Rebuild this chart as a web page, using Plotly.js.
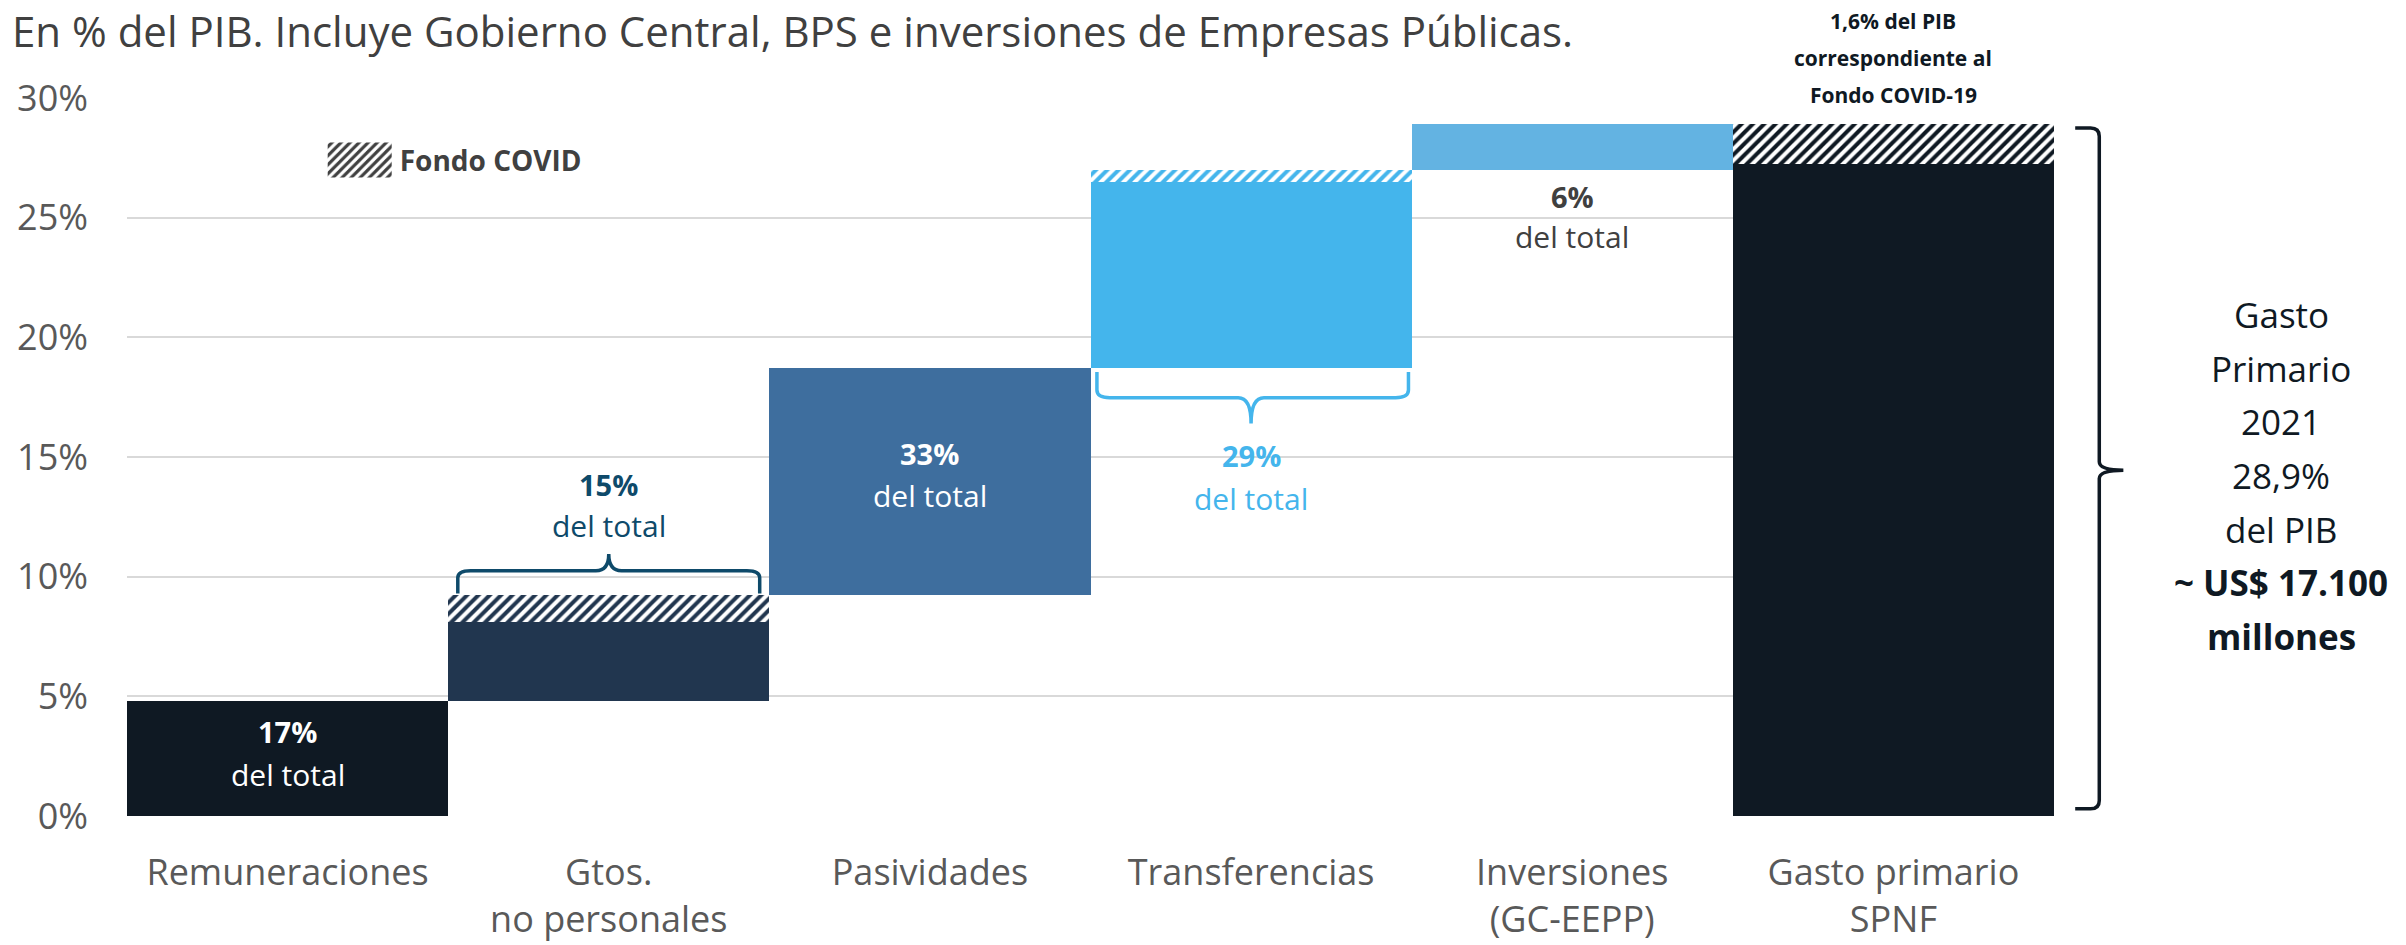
<!DOCTYPE html>
<html>
<head>
<meta charset="utf-8">
<script src="https://cdn.plot.ly/plotly-3.0.1.min.js"></script>
<style>
  html, body { margin: 0; padding: 0; background: #ffffff; }
  #chart { width: 2406px; height: 945px; }
</style>
</head>
<body>
<div id="chart"></div>
<script>
// ---- Data (% del PIB) ----
const categories = ['Remuneraciones', 'Gtos.<br>no personales', 'Pasividades', 'Transferencias', 'Inversiones<br>(GC-EEPP)', 'Gasto primario<br>SPNF'];
const solidValues = [4.8, 3.3, 9.45, 7.8, 1.9, 27.25];   // sin Fondo COVID
const covidValues = [0, 1.15, 0, 0.5, 0, 1.65];          // Fondo COVID
const isTotal = [false, false, false, false, false, true];
const shareLabels = ['17%', '15%', '33%', '29%', '6%'];
const barColors = ['#0f1923', '#21364f', '#3e6e9e', '#44b5ec', '#63b3e2', '#0f1923'];

// ---- Waterfall bases ----
const xIdx = categories.map((_, i) => i);
const starts = [];
let running = 0;
for (let i = 0; i < categories.length; i++) {
  if (isTotal[i]) { starts.push(0); }
  else { starts.push(running); running += solidValues[i] + covidValues[i]; }
}
const covidStarts = starts.map((s, i) => s + solidValues[i]);

const FONT = 'Open Sans, Noto Sans, sans-serif';

const traces = [
  {
    type: 'bar', x: xIdx, y: solidValues, base: starts, width: 1,
    marker: { color: barColors, line: { width: 0 } },
    showlegend: false, hoverinfo: 'skip'
  },
  {
    type: 'bar', x: xIdx, y: covidValues, base: covidStarts, width: 1,
    marker: { color: '#ffffff', line: { width: 0 },
      pattern: { shape: '/', fgcolor: barColors, bgcolor: '#ffffff', size: 8, solidity: 0.5, fillmode: 'replace' } },
    showlegend: false, hoverinfo: 'skip'
  },
  {
    type: 'bar', x: [null], y: [null], name: 'Fondo COVID',
    marker: { color: '#ffffff', line: { width: 0 },
      pattern: { shape: '/', fgcolor: '#404040', bgcolor: '#ffffff', size: 8, solidity: 0.5, fillmode: 'replace' } },
    showlegend: true, hoverinfo: 'skip'
  }
];

// ---- Annotations ----
const annotations = [];
const shareStyle = [
  { i: 0, yb: 3.52, yd: 1.72, color: '#ffffff' },
  { i: 1, yb: 13.85, yd: 12.13, color: '#0e4a6a' },
  { i: 2, yb: 15.15, yd: 13.4, color: '#ffffff' },
  { i: 3, yb: 15.07, yd: 13.28, color: '#44b5ec' },
  { i: 4, yb: 25.9, yd: 24.2, color: '#404040' }
];
shareStyle.forEach(s => {
  annotations.push({ xref: 'x', yref: 'y', x: s.i, y: s.yb, text: '<b>' + shareLabels[s.i] + '</b>', showarrow: false,
    xanchor: 'center', font: { family: FONT, size: 29, color: s.color } });
  annotations.push({ xref: 'x', yref: 'y', x: s.i, y: s.yd, text: 'del total', showarrow: false,
    xanchor: 'center', font: { family: FONT, size: 30, color: s.color } });
});

// Nota sobre Fondo COVID (arriba de la última barra)
const topNote = ['1,6% del PIB', 'correspondiente al', 'Fondo COVID-19'];
topNote.forEach((t, k) => {
  annotations.push({ xref: 'x', yref: 'paper', x: 5, y: 1.1066, yshift: -k * 36.6, text: '<b>' + t + '</b>',
    showarrow: false, xanchor: 'center', yanchor: 'middle', font: { family: FONT, size: 21, color: '#0f1923' } });
});

// Texto derecho
const rightText = ['Gasto', 'Primario', '2021', '28,9%', 'del PIB', '<b>~ US$ 17.100</b>', '<b>millones</b>'];
rightText.forEach((t, k) => {
  annotations.push({ xref: 'paper', yref: 'paper', x: 1.118, y: 0.6985, yshift: -k * 53.7, text: t,
    showarrow: false, xanchor: 'center', yanchor: 'middle', font: { family: FONT, size: 35, color: '#0f1923' } });
});

// ---- Brackets ----
const shapes = [
  { type: 'path', xref: 'x', yref: 'y', layer: 'above',
    path: 'M 0.53 9.3 L 0.53 9.95 Q 0.53 10.25 0.57 10.25 L 0.96 10.25 Q 1.0 10.25 1.0 10.95 Q 1.0 10.25 1.04 10.25 L 1.43 10.25 Q 1.47 10.25 1.47 9.95 L 1.47 9.3',
    line: { color: '#0e4a6a', width: 3.5 } },
  { type: 'path', xref: 'x', yref: 'y', layer: 'above',
    path: 'M 2.52 18.55 L 2.52 17.8 Q 2.52 17.48 2.56 17.48 L 2.96 17.48 Q 3.0 17.48 3.0 16.4 Q 3.0 17.48 3.04 17.48 L 3.45 17.48 Q 3.49 17.48 3.49 17.8 L 3.49 18.55',
    line: { color: '#44b5ec', width: 3.5 } },
  { type: 'path', xref: 'paper', yref: 'y', layer: 'above',
    path: 'M 1.011 28.75 L 1.019 28.75 Q 1.0235 28.75 1.0235 28.4 L 1.0235 14.8 Q 1.0235 14.45 1.036 14.45 Q 1.0235 14.45 1.0235 14.1 L 1.0235 0.65 Q 1.0235 0.3 1.019 0.3 L 1.011 0.3',
    line: { color: '#0f1923', width: 3.5 } }
];

const layout = {
  width: 2406, height: 945,
  paper_bgcolor: '#ffffff', plot_bgcolor: '#ffffff',
  margin: { l: 127, r: 352, t: 98, b: 129 },
  font: { family: FONT, color: '#595959' },
  title: { text: 'En % del PIB. Incluye Gobierno Central, BPS e inversiones de Empresas Públicas.',
    xref: 'container', yref: 'container', x: 0.005, xanchor: 'left', y: 0.966, yanchor: 'middle',
    font: { family: FONT, size: 42, color: '#404040' } },
  barmode: 'overlay', bargap: 0,
  xaxis: { range: [-0.5, 5.5], tickmode: 'array', tickvals: xIdx, ticktext: categories,
    showgrid: false, zeroline: false, showline: false, ticks: '', ticklabelstandoff: 32,
    tickfont: { family: FONT, size: 36, color: '#595959' }, fixedrange: true },
  yaxis: { range: [0, 30], dtick: 5, tick0: 0, ticksuffix: '%', showgrid: true, gridcolor: '#d9d9d9', gridwidth: 2,
    zeroline: false, showline: false, ticks: '', ticklabelstandoff: 38,
    tickfont: { family: FONT, size: 36, color: '#595959' }, fixedrange: true },
  showlegend: true,
  legend: { x: 0.100, y: 0.948, xanchor: 'left', yanchor: 'top', bgcolor: 'rgba(0,0,0,0)', itemwidth: 70,
    font: { family: FONT, size: 28, color: '#404040', weight: 'bold' } },
  annotations: annotations,
  shapes: shapes
};

Plotly.newPlot('chart', traces, layout, { displayModeBar: false, staticPlot: true }).then(gd => {
  // Enlarge the legend swatch to match the reference
  gd.querySelectorAll('.legend .legendpoints path').forEach(p => {
    p.setAttribute('d', 'M-32,-17.5H32V17.5H-32Z');
  });
});
</script>
</body>
</html>
